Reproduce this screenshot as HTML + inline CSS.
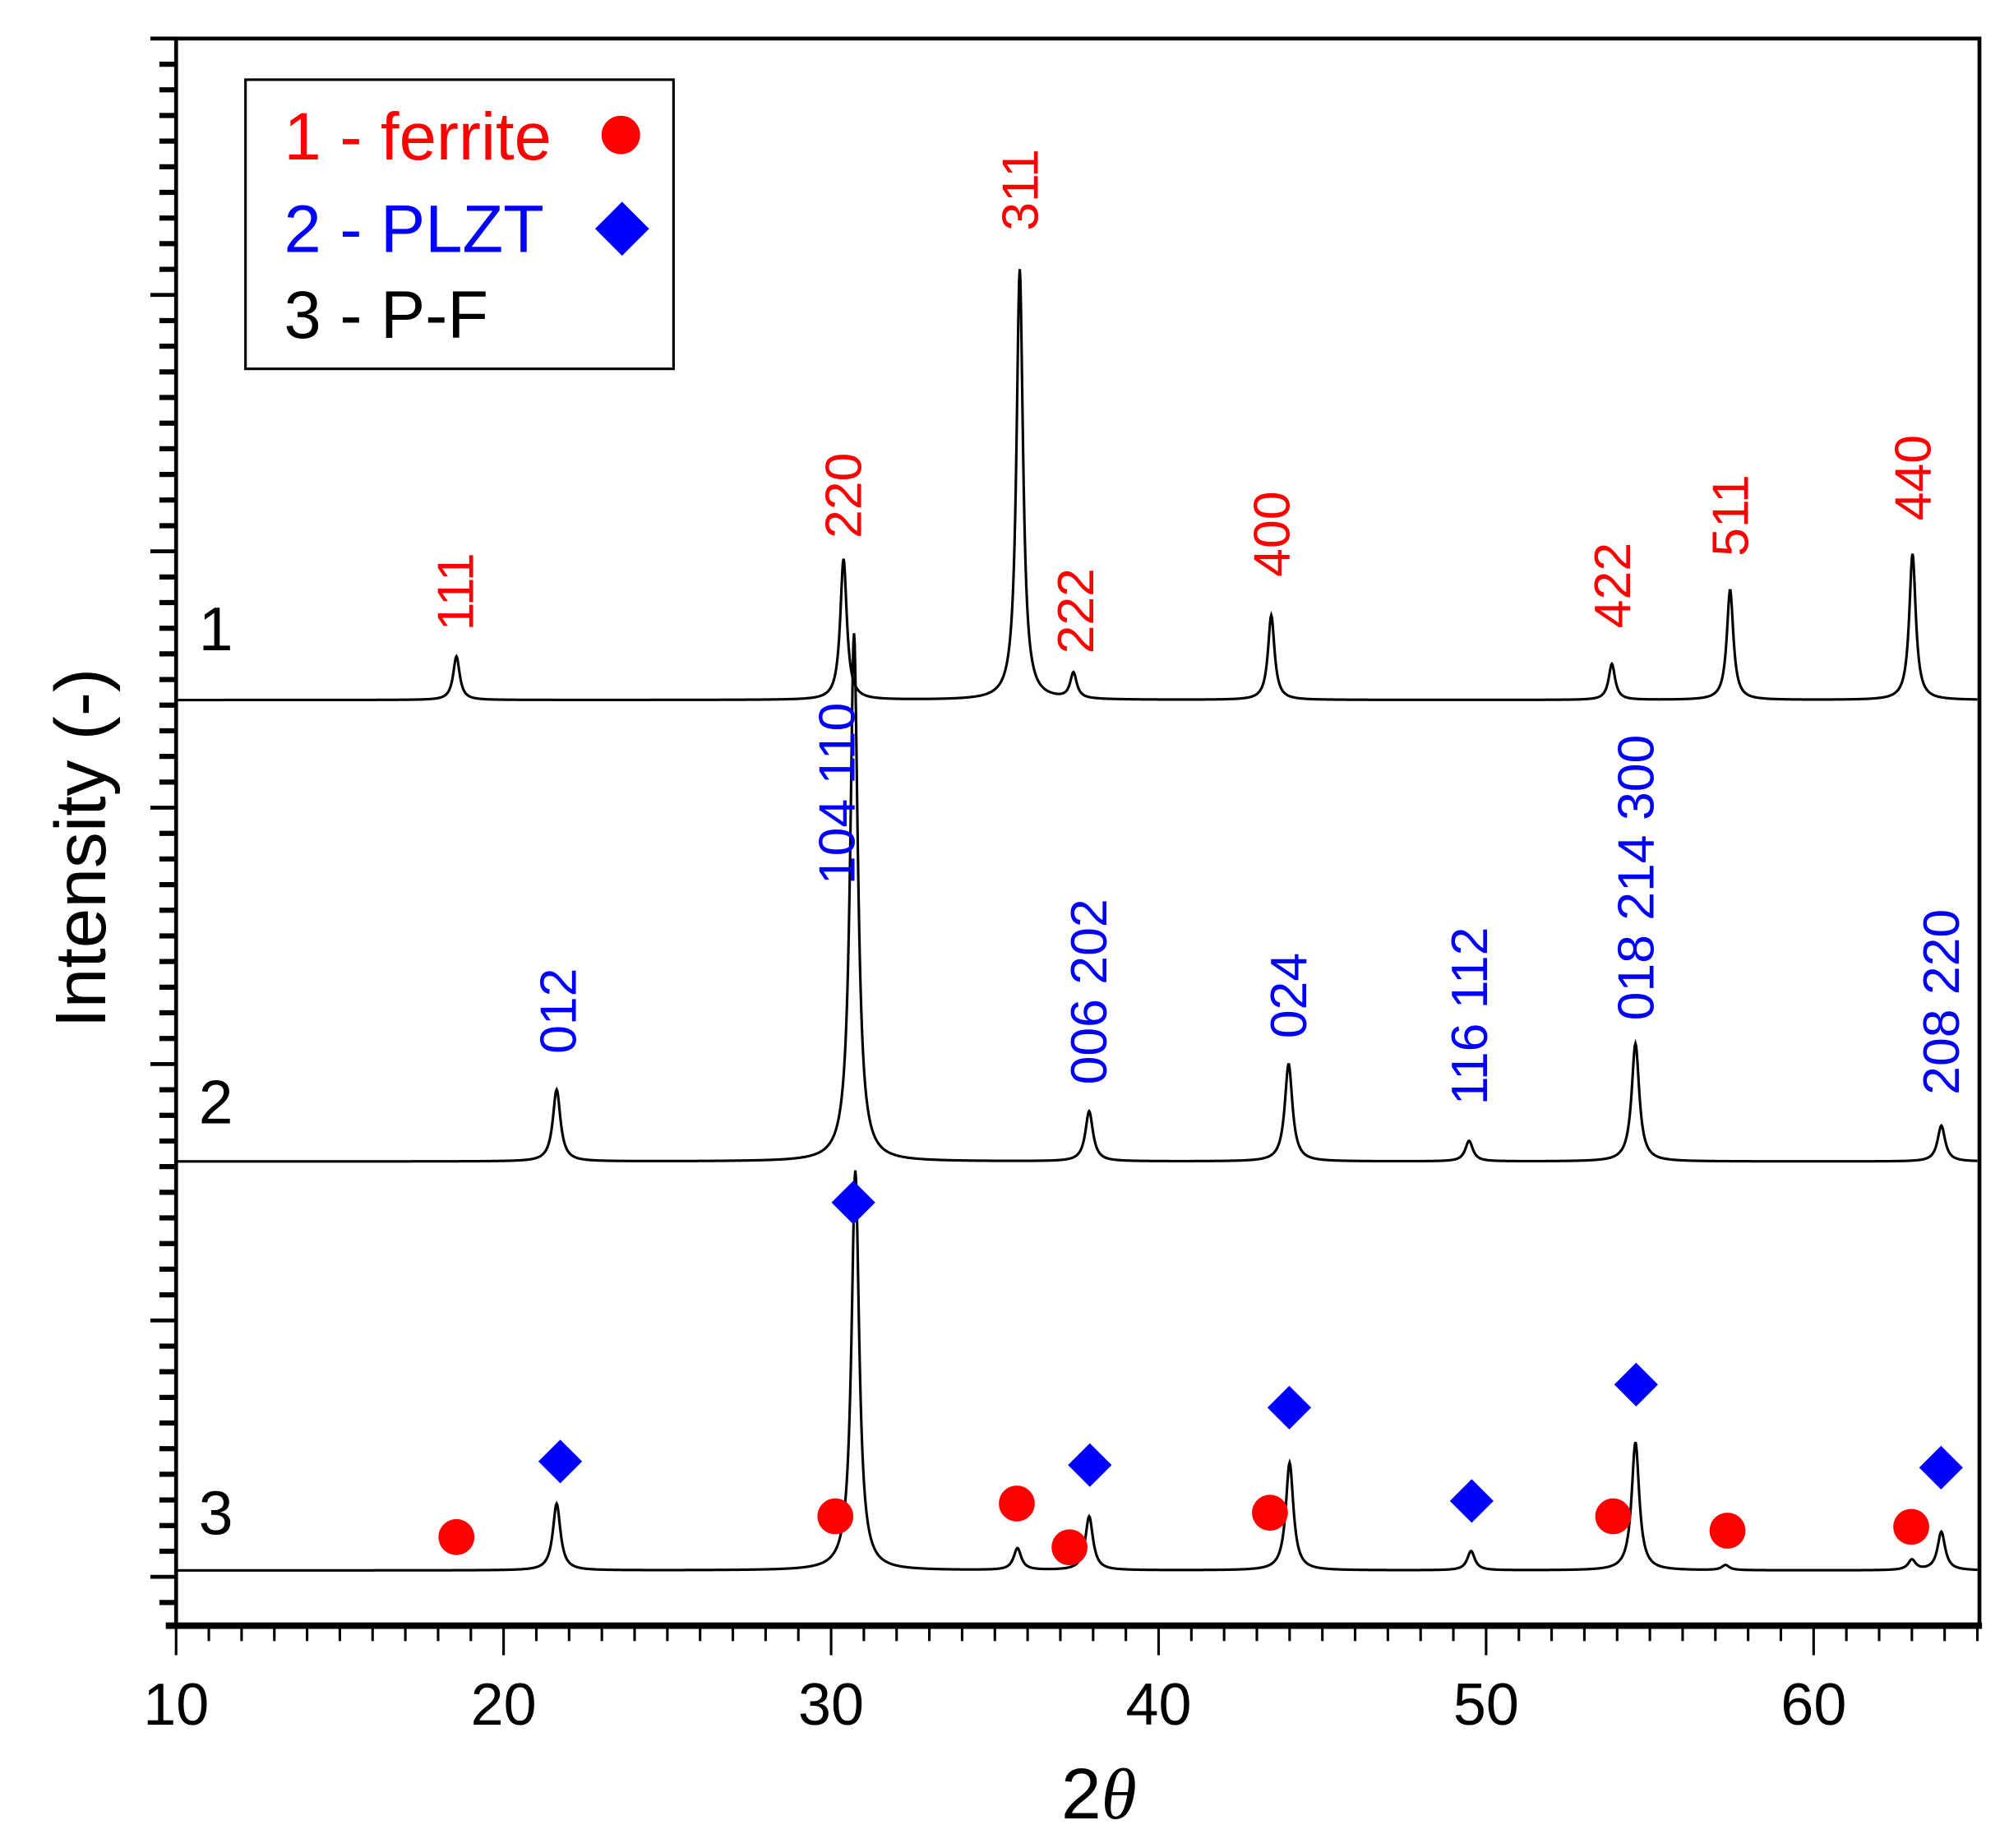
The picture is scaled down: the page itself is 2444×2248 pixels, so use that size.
<!DOCTYPE html>
<html><head><meta charset="utf-8"><style>
html,body{margin:0;padding:0;background:#fff}
svg{display:block}
text{font-family:"Liberation Sans",Arial,sans-serif}
</style></head><body>
<svg id="chart" width="2444" height="2248" viewBox="0 0 1563 1438" preserveAspectRatio="none" xmlns="http://www.w3.org/2000/svg">
<g id="plot"></g>
</svg>
<script>
// x-axis ticks
const xTickLabels = [10, 20, 30, 40, 50, 60];
// trace 1 (ferrite) peaks: 2theta, amplitude
const t1Pos = [18.56, 30.38, 35.76, 37.40, 43.44, 53.84, 57.45, 63.02];
const t1Amp = [17, 55, 168, 10, 33, 14, 43, 57];
const t1Base = 342;
// trace 2 (PLZT)
const t2Pos = [21.62, 30.70, 37.88, 43.97, 49.48, 54.56, 63.90];
const t2Amp = [28, 206, 19.5, 38, 8, 46, 14];
const t2Base = 162;
// trace 3 (P-F)
const t3Pos = [21.62, 30.74, 35.69, 37.88, 44.00, 49.54, 54.56, 57.31, 63.90, 63.00];
const t3Amp = [26, 156, 8.5, 21, 42, 7.5, 50, 2, 15, 4];
const t3Base = 2.5;
// markers on trace 3
const circTheta = [18.56, 30.13, 35.67, 37.28, 43.40, 53.88, 57.37, 62.98];
const circVal = [15.5, 23.6, 28.6, 11.5, 25, 23.6, 18, 19.5];
const diaTheta = [21.73, 30.68, 37.90, 43.99, 49.56, 54.58, 63.89];
const diaVal = [45, 146, 43.6, 66, 29.6, 75, 42.6];
// peak labels
const redLabels = ["111", "220", "311", "222", "400", "422", "511", "440"];
const redTheta = [18.56, 30.4, 35.8, 37.5, 43.48, 53.88, 57.49, 63.06];
const redVal = [369, 405, 525, 360, 390, 370, 398, 412];
const blueLabels = ["012", "104 110", "006 202", "024", "116 112", "018 214 300", "208 220"];
const blueTheta = [21.7, 30.2, 37.9, 44.0, 49.52, 54.6, 63.92];
const blueVal = [204, 270, 192, 210, 184, 217, 188];

const NS = "http://www.w3.org/2000/svg";
const g = document.getElementById("plot");
const L = 137, R = 1540, T = 30, B = 1265;
const xs = th => L + (th - 10) * 25.48;
const ys = v => 1227 - v * 1.995;
function mk(tag, attrs, parent) {
  const e = document.createElementNS(NS, tag);
  for (const k in attrs) e.setAttribute(k, attrs[k]);
  (parent || g).appendChild(e);
  return e;
}
const frame = mk("rect", {x: L, y: T, width: R - L, height: B - T, fill: "none", stroke: "#000", "stroke-width": 3});


const xAxisLine = mk("line", {x1: L - 8, x2: R + 2, y1: B, y2: B, stroke: "#000", "stroke-width": 5});


for (let v = 10; v <= 65; v++) {
  const major = v % 10 === 0;
  const t = mk("line", {x1: xs(v), x2: xs(v), y1: B, y2: major ? 1288 : 1277, stroke: "#000", "stroke-width": 2});
  
  
}
xTickLabels.forEach(v => {
  const t = mk("text", {x: xs(v), y: 1342, "text-anchor": "middle", "font-size": 46, fill: "#000"});
  t.textContent = v;
  
  
});
for (let i = -2; i <= 60; i++) {
  const y = 1227 - i * 19.95;
  if (y < T - 1 || y > B - 5) continue;
  const major = i % 10 === 0;
  const t = mk("line", {x1: major ? 117 : 124, x2: L, y1: y, y2: y, stroke: "#000", "stroke-width": major ? 3 : 4});
  
  
}
const yt = mk("text", {x: 0, y: 0, transform: "translate(82,660) rotate(-90)", "text-anchor": "middle", "font-size": 56, fill: "#000"});
yt.textContent = "Intensity (-)";


const xt = mk("text", {x: 855, y: 1415, "text-anchor": "middle", "font-size": 56, fill: "#000"});
xt.innerHTML = '2<tspan font-style="italic" font-family="Liberation Serif, serif">θ</tspan>';


function trace(pos, amp, base, w, name) {
  let d = "";
  for (let th = 10; th <= 65.001; th += 0.02) {
    let v = base;
    for (let i = 0; i < pos.length; i++) {
      const z = (th - pos[i]) / w;
      v += amp[i] / (1 + z * z);
    }
    d += (d ? "L" : "M") + xs(th).toFixed(2) + "," + ys(v).toFixed(2);
  }
  const p = mk("path", {d: d, fill: "none", stroke: "#000", "stroke-width": 2});
  
  
}
trace(t1Pos, t1Amp, t1Base, 0.12, 'trace-ferrite');
trace(t2Pos, t2Amp, t2Base, 0.14, 'trace-plzt');
trace(t3Pos, t3Amp, t3Base, 0.14, 'trace-pf');
circTheta.forEach((th, i) => {
  const c = mk("circle", {cx: xs(th), cy: ys(circVal[i]), r: 14, fill: "#f00"});
  
  
});
diaTheta.forEach((th, i) => {
  const x = xs(th), y = ys(diaVal[i]), s = 17;
  const p = mk("polygon", {points: `${x},${y - s} ${x + s},${y} ${x},${y + s} ${x - s},${y}`, fill: "#00f"});
  
  
});
function lbl(texts, ths, vals, col, name) {
  texts.forEach((s, i) => {
    const x = xs(ths[i]) + 13, y = ys(vals[i]);
    const t = mk("text", {x: 0, y: 0, transform: `translate(${x},${y}) rotate(-90)`, "font-size": 40, fill: col});
    t.textContent = s;
    
    
  });
}
lbl(redLabels, redTheta, redVal, "#f00", 'ferrite-peak-label');
lbl(blueLabels, blueTheta, blueVal, "#00f", 'plzt-peak-label');
[["1", 490], ["2", 858], ["3", 1178]].forEach(a => {
  const t = mk("text", {x: 168, y: a[1] + 16, "text-anchor": "middle", "font-size": 48, fill: "#000"});
  t.textContent = a[0];
  
  
});
const lg = mk("g", {});


mk("rect", {x: 191, y: 62, width: 333, height: 225, fill: "#fff", stroke: "#000", "stroke-width": 2}, lg);
[["1 - ferrite", "#f00", 124], ["2 - PLZT", "#00f", 196], ["3 - P-F", "#000", 263]].forEach(a => {
  const t = mk("text", {x: 221, y: a[2], "font-size": 52, fill: a[1]}, lg);
  t.textContent = a[0];
  
  
});
const lc = mk("circle", {cx: 483, cy: 105, r: 15, fill: "#f00"}, lg);


const ld = mk("polygon", {points: "484,157 505,178 484,199 463,178", fill: "#00f"}, lg);


</script>
</body></html>
